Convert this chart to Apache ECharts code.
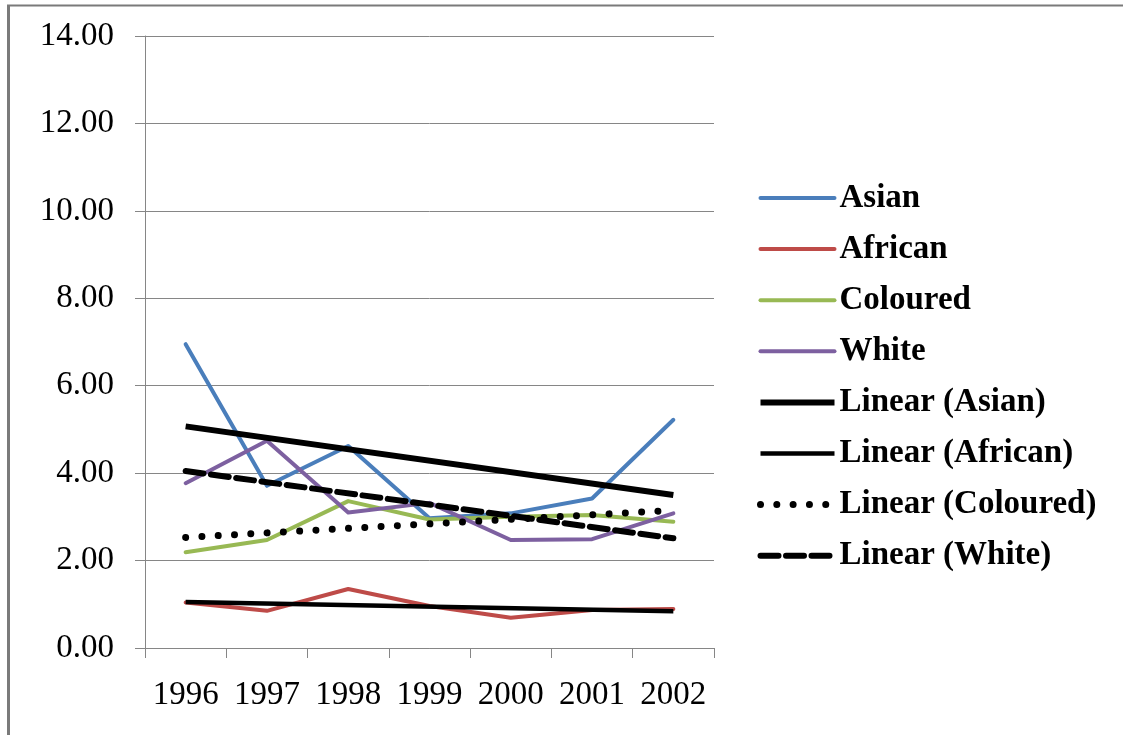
<!DOCTYPE html>
<html>
<head>
<meta charset="utf-8">
<title>Rates by population group, 1996-2002</title>
<script src="https://cdn.jsdelivr.net/npm/echarts@6/dist/echarts.min.js"></script>
<style>
  html, body { margin: 0; padding: 0; background: #ffffff; }
  #chart { width: 1123px; height: 735px; }
</style>
</head>
<body>
<div id="chart"></div>
<script>
// Years on the category axis
const years = ['1996', '1997', '1998', '1999', '2000', '2001', '2002'];

// Yearly values per population group
const asian    = [6.95, 3.71, 4.62, 2.97, 3.08, 3.42, 5.22];
const african  = [1.04, 0.85, 1.35, 0.96, 0.69, 0.87, 0.89];
const coloured = [2.19, 2.47, 3.36, 2.94, 3.00, 3.04, 2.89];
const white    = [3.77, 4.74, 3.10, 3.32, 2.47, 2.49, 3.08];

// Linear trend values at the first and last year
const trendAsian    = [5.07, 3.50];
const trendAfrican  = [1.05, 0.84];
const trendColoured = [2.53, 3.15];
const trendWhite    = [4.05, 2.51];

// Value axis ticks
const yTicks = [0, 2, 4, 6, 8, 10, 12, 14];

// A straight trend line spanning the whole year range
function spanLine(ends) {
  const arr = years.map(() => null);
  arr[0] = ends[0];
  arr[arr.length - 1] = ends[1];
  return arr;
}

const axisGray = '#868686';
const serif = '"Liberation Serif", "Times New Roman", serif';

function dataSeries(name, values, color) {
  return {
    name: name,
    type: 'line',
    data: values,
    symbol: 'none',
    lineStyle: { color: color, width: 4, cap: 'round', join: 'round' },
    itemStyle: { color: color },
    z: 2
  };
}

function trendSeries(name, ends, width, dash) {
  return {
    name: name,
    type: 'line',
    data: spanLine(ends),
    connectNulls: true,
    symbol: 'none',
    lineStyle: { color: '#000000', width: width, type: dash, cap: dash === 'solid' ? 'butt' : 'round' },
    itemStyle: { color: '#000000' },
    z: 3
  };
}

const chart = echarts.init(document.getElementById('chart'), null, { renderer: 'canvas' });

chart.setOption({
  animation: false,
  backgroundColor: '#ffffff',
  grid: { left: 145, right: 409, top: 36, bottom: 87, containLabel: false },
  xAxis: {
    type: 'category',
    data: years,
    boundaryGap: true,
    axisLine: { show: true, lineStyle: { color: axisGray, width: 1 } },
    axisTick: { show: true, length: 10, alignWithLabel: false, lineStyle: { color: axisGray } },
    axisLabel: { color: '#000000', fontFamily: serif, fontSize: 33, margin: 31, interval: 0 },
    splitLine: { show: false }
  },
  yAxis: {
    type: 'value',
    min: yTicks[0],
    max: yTicks[yTicks.length - 1],
    interval: yTicks[1] - yTicks[0],
    axisLine: { show: true, lineStyle: { color: axisGray, width: 1 } },
    axisTick: { show: true, length: 10, lineStyle: { color: axisGray } },
    axisLabel: {
      color: '#000000', fontFamily: serif, fontSize: 33, margin: 31,
      formatter: v => v.toFixed(2)
    },
    splitLine: { show: true, lineStyle: { color: axisGray, width: 1 } }
  },
  legend: {
    orient: 'vertical',
    left: 752,
    top: 176,
    itemWidth: 74,
    itemHeight: 8,
    itemGap: 17.1,
    itemStyle: { opacity: 0 },
    lineStyle: { width: 'inherit', type: 'inherit', cap: 'inherit' },
    textStyle: { color: '#000000', fontFamily: serif, fontSize: 33, fontWeight: 'bold', lineHeight: 34 },
    data: [
      'Asian', 'African', 'Coloured', 'White',
      'Linear (Asian)', 'Linear (African)', 'Linear (Coloured)', 'Linear (White)'
    ]
  },
  graphic: [
    { type: 'line', shape: { x1: 7, y1: 5.5, x2: 1123, y2: 5.5 }, style: { stroke: '#7a7a7a', lineWidth: 2 }, silent: true },
    { type: 'line', shape: { x1: 8.5, y1: 5, x2: 8.5, y2: 735 }, style: { stroke: '#7a7a7a', lineWidth: 3 }, silent: true }
  ],
  series: [
    dataSeries('Asian', asian, '#4a7ebb'),
    dataSeries('African', african, '#be4b48'),
    dataSeries('Coloured', coloured, '#98b954'),
    dataSeries('White', white, '#7d60a0'),
    trendSeries('Linear (Asian)', trendAsian, 6, 'solid'),
    trendSeries('Linear (African)', trendAfrican, 4.5, 'solid'),
    trendSeries('Linear (Coloured)', trendColoured, 7, [0.01, 16.3]),
    trendSeries('Linear (White)', trendWhite, 6, [18, 7.5])
  ]
});
</script>
</body>
</html>
